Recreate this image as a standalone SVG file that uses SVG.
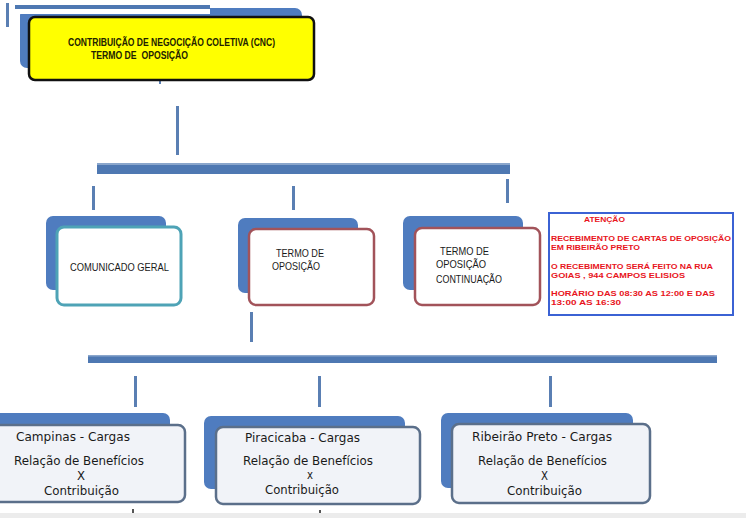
<svg xmlns="http://www.w3.org/2000/svg" width="746" height="518" viewBox="0 0 746 518">
<defs>
<style>
.back{fill:#4f7cbf;}
.bar{fill:#4e78b2;}
.vline{fill:#5a7fb3;}
.teal{fill:#ffffff;stroke:#4ea3b6;stroke-width:3;}
.red{fill:#ffffff;stroke:#a2535a;stroke-width:2.5;}
.bot{fill:#f1f3f8;stroke:#5b6f8a;stroke-width:2.5;}
.mid{font-family:"Liberation Sans",Arial,sans-serif;font-size:10.5px;fill:#1a1a1a;}
.btxt{font-family:"DejaVu Sans",Verdana,sans-serif;font-size:11.5px;fill:#1a1a1a;}
.att{font-family:"Liberation Sans",Arial,sans-serif;font-size:8px;font-weight:bold;fill:#e8141c;}
.ttl{font-family:"Liberation Sans",Arial,sans-serif;font-size:10px;font-weight:bold;fill:#222200;}
</style>
</defs>
<rect width="746" height="518" fill="#ffffff"/>

<g id="connectors">
  <rect class="vline" x="6" y="3" width="3" height="24"/>
  <rect class="vline" x="159" y="81" width="2" height="3"/>
  <rect class="vline" x="176" y="106" width="3" height="49"/>
  <rect class="bar" x="97" y="163" width="413" height="11"/>
  <rect x="97" y="163" width="413" height="2" fill="#8aa6cc"/>
  <rect class="vline" x="92" y="186" width="3" height="24"/>
  <rect class="vline" x="292" y="186" width="3" height="24"/>
  <rect class="vline" x="506" y="179" width="3" height="24"/>
  <rect class="vline" x="250" y="312" width="3" height="30"/>
  <rect class="bar" x="88" y="355" width="629" height="8"/>
  <rect x="88" y="355" width="629" height="1.5" fill="#8aa6cc"/>
  <rect class="vline" x="134" y="376" width="3" height="31"/>
  <rect class="vline" x="318" y="376" width="3" height="31"/>
  <rect class="vline" x="549" y="376" width="3" height="31"/>
</g>

<g id="node-title">
  <rect class="back" x="20" y="8" width="282" height="60" rx="7"/>
  <rect x="15" y="9" width="195" height="5" fill="#ffffff"/>
  <rect class="bar" x="15" y="5" width="195" height="4"/>
  <rect x="29" y="17" width="285" height="63" rx="6" fill="#ffff00" stroke="#111111" stroke-width="2.5"/>
  <text class="ttl" x="68" y="46" textLength="207" lengthAdjust="spacingAndGlyphs">CONTRIBUIÇÃO DE NEGOCIÇÃO COLETIVA (CNC)</text>
  <text class="ttl" x="91" y="59" textLength="97" lengthAdjust="spacingAndGlyphs" xml:space="preserve">TERMO DE  OPOSIÇÃO</text>
</g>

<g id="node-comunicado">
  <rect class="back" x="46" y="216" width="120" height="74" rx="7"/>
  <rect class="teal" x="57" y="227" width="124" height="78" rx="7"/>
  <text class="mid" x="70" y="271" textLength="99" lengthAdjust="spacingAndGlyphs">COMUNICADO GERAL</text>
</g>

<g id="node-termo">
  <rect class="back" x="238" y="218" width="120" height="75" rx="7"/>
  <rect class="red" x="249" y="229" width="125" height="76" rx="7"/>
  <text class="mid" x="276" y="257" textLength="48" lengthAdjust="spacingAndGlyphs">TERMO DE</text>
  <text class="mid" x="272" y="270" textLength="48" lengthAdjust="spacingAndGlyphs">OPOSIÇÃO</text>
</g>

<g id="node-termo-cont">
  <rect class="back" x="403" y="216" width="120" height="74" rx="7"/>
  <rect class="red" x="415" y="228" width="125" height="77" rx="7"/>
  <text class="mid" x="440" y="255" textLength="49" lengthAdjust="spacingAndGlyphs">TERMO DE</text>
  <text class="mid" x="436" y="268" textLength="50" lengthAdjust="spacingAndGlyphs">OPOSIÇÃO</text>
  <text class="mid" x="436" y="283" textLength="66" lengthAdjust="spacingAndGlyphs">CONTINUAÇÃO</text>
</g>

<g id="node-atencao">
  <rect x="549" y="213" width="184" height="102" fill="#ffffff" stroke="#3b62d4" stroke-width="2"/>
  <text class="att" x="584" y="222" textLength="41" lengthAdjust="spacingAndGlyphs">ATENÇÃO</text>
  <text class="att" x="551" y="241" textLength="180" lengthAdjust="spacingAndGlyphs">RECEBIMENTO DE CARTAS DE OPOSIÇÃO</text>
  <text class="att" x="551" y="250" textLength="89" lengthAdjust="spacingAndGlyphs">EM RIBEIRÃO PRETO</text>
  <text class="att" x="551" y="269" textLength="162" lengthAdjust="spacingAndGlyphs">O RECEBIMENTO SERÁ FEITO NA RUA</text>
  <text class="att" x="551" y="278" textLength="134" lengthAdjust="spacingAndGlyphs">GOIAS , 944 CAMPOS ELISIOS</text>
  <text class="att" x="551" y="296" textLength="164" lengthAdjust="spacingAndGlyphs">HORÁRIO DAS 08:30 AS 12:00 E DAS</text>
  <text class="att" x="551" y="305" textLength="70" lengthAdjust="spacingAndGlyphs">13:00 AS 16:30</text>
</g>

<g id="node-campinas">
  <rect class="back" x="-12" y="413" width="182" height="75" rx="7"/>
  <rect class="bot" x="-12" y="425" width="197" height="77" rx="7"/>
  <text class="btxt" x="16" y="441" textLength="114" lengthAdjust="spacingAndGlyphs">Campinas - Cargas</text>
  <text class="btxt" x="14" y="465" textLength="130" lengthAdjust="spacingAndGlyphs">Relação de Benefícios</text>
  <text class="btxt" x="77" y="480" textLength="8" lengthAdjust="spacingAndGlyphs">X</text>
  <text class="btxt" x="44" y="495" textLength="75" lengthAdjust="spacingAndGlyphs">Contribuição</text>
</g>

<g id="node-piracicaba">
  <rect class="back" x="204" y="416" width="201" height="73" rx="7"/>
  <rect class="bot" x="216" y="427" width="204" height="77" rx="7"/>
  <text class="btxt" x="245" y="442" textLength="115" lengthAdjust="spacingAndGlyphs">Piracicaba - Cargas</text>
  <text class="btxt" x="243" y="465" textLength="130" lengthAdjust="spacingAndGlyphs">Relação de Benefícios</text>
  <text class="btxt" x="307" y="479" textLength="6" lengthAdjust="spacingAndGlyphs">x</text>
  <text class="btxt" x="265" y="494" textLength="74" lengthAdjust="spacingAndGlyphs">Contribuição</text>
</g>

<g id="node-ribeirao">
  <rect class="back" x="441" y="413" width="192" height="75" rx="7"/>
  <rect class="bot" x="452" y="424" width="198" height="79" rx="7"/>
  <text class="btxt" x="472" y="441" textLength="140" lengthAdjust="spacingAndGlyphs">Ribeirão Preto - Cargas</text>
  <text class="btxt" x="478" y="465" textLength="129" lengthAdjust="spacingAndGlyphs">Relação de Benefícios</text>
  <text class="btxt" x="541" y="480" textLength="7" lengthAdjust="spacingAndGlyphs">X</text>
  <text class="btxt" x="507" y="495" textLength="75" lengthAdjust="spacingAndGlyphs">Contribuição</text>
</g>

<rect x="0" y="513" width="746" height="5" fill="#ececec"/>
<rect x="132" y="509" width="2" height="4" fill="#555555"/>
<rect x="319" y="510" width="2" height="3" fill="#555555"/>
</svg>
